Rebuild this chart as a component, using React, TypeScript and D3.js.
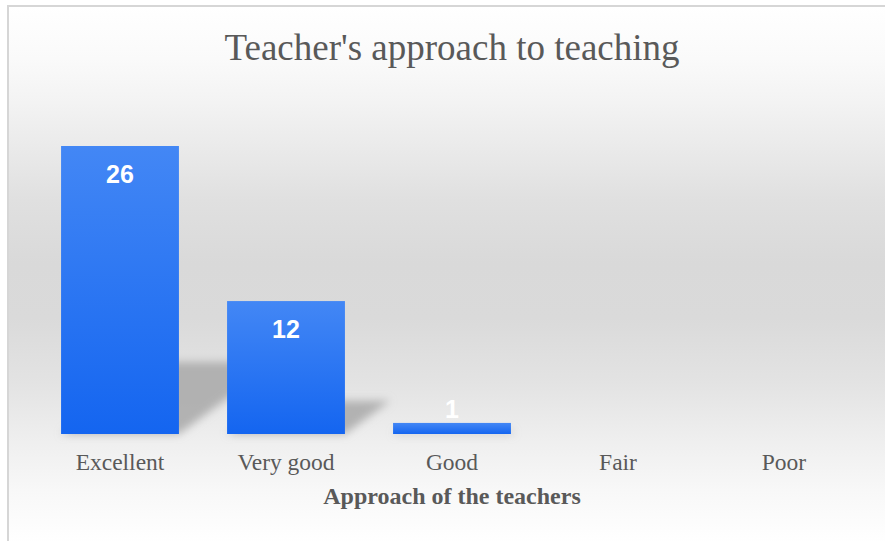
import React from "react";
import * as d3 from "d3";

const categories = ["Excellent", "Very good", "Good", "Fair", "Poor"];
const values = [26, 12, 1, 0, 0];
const titleText = "Teacher's approach to teaching";
const axisTitle = "Approach of the teachers";

const W = 885;
const H = 541;

export default function App() {
  const x = d3.scaleBand<string>().domain(categories).range([37, 867]).paddingInner(0.29).paddingOuter(0.145);
  const y = d3.scaleLinear().domain([0, 30]).range([434, 101.7]);
  const base = y(0);

  return (
    <svg
      width={W}
      height={H}
      style={{ position: "absolute", left: 0, top: 0, display: "block" }}
    >
      <defs>
        <linearGradient id="bg" x1="0" y1="5" x2="0" y2="545" gradientUnits="userSpaceOnUse">
          <stop offset="0" stopColor="#ffffff" />
          <stop offset="0.1" stopColor="#fafafa" />
          <stop offset="0.18" stopColor="#f3f3f3" />
          <stop offset="0.36" stopColor="#e0e0e0" />
          <stop offset="0.48" stopColor="#d9d9d9" />
          <stop offset="0.58" stopColor="#dadada" />
          <stop offset="0.7" stopColor="#e3e3e3" />
          <stop offset="0.8" stopColor="#eeeeee" />
          <stop offset="0.9" stopColor="#f8f8f8" />
          <stop offset="1" stopColor="#ffffff" />
        </linearGradient>
        <linearGradient id="bar" x1="0" y1="0" x2="0" y2="1">
          <stop offset="0" stopColor="#4387f5" />
          <stop offset="1" stopColor="#1465f0" />
        </linearGradient>
        <filter id="blur" x="-50%" y="-50%" width="200%" height="200%">
          <feGaussianBlur stdDeviation="4" />
        </filter>
      </defs>
      <rect x={0} y={0} width={W} height={H} fill="#ffffff" />
      <rect x={8} y={6} width={W + 10} height={H + 10} fill="url(#bg)" stroke="#d6d6d6" strokeWidth={2} />

      <text
        x={452}
        y={60}
        textAnchor="middle"
        fontFamily="'Liberation Serif', 'Times New Roman', serif"
        fontSize={37}
        fill="#595959"
      >
        {titleText}
      </text>

      {/* shadows */}
      <g filter="url(#blur)">
        {categories.map((c, i) => {
          const v = values[i];
          if (v <= 0) return null;
          const x0 = x(c)!;
          const x1 = x0 + x.bandwidth();
          const h = base - y(v);
          const sh = h * 0.25;
          const s = h * 0.34;
          const pts = [
            [x0, base],
            [x1, base],
            [x1 + s, base - sh],
            [x0 + s, base - sh],
          ];
          return <polygon key={c} points={pts.map((p) => p.join(",")).join(" ")} fill="#a8a8a8" opacity={0.85} />;
        })}
      </g>

      {categories.map((c, i) => {
        const v = values[i];
        if (v <= 0) return null;
        return (
          <rect
            key={c}
            x={x(c)}
            y={y(v)}
            width={x.bandwidth()}
            height={base - y(v)}
            fill="url(#bar)"
          />
        );
      })}

      {categories.map((c, i) => {
        const v = values[i];
        if (v <= 0) return null;
        const top = y(v);
        const h = base - top;
        const by = h > 30 ? top + 37 : top - 5;
        return (
          <text
            key={c}
            x={x(c)! + x.bandwidth() / 2}
            y={by}
            textAnchor="middle"
            fontFamily="'Liberation Sans', Arial, sans-serif"
            fontWeight="bold"
            fontSize={25}
            fill="#ffffff"
          >
            {v}
          </text>
        );
      })}

      {categories.map((c) => (
        <text
          key={c}
          x={x(c)! + x.bandwidth() / 2}
          y={470}
          textAnchor="middle"
          fontFamily="'Liberation Serif', 'Times New Roman', serif"
          fontSize={23.5}
          fill="#595959"
        >
          {c}
        </text>
      ))}

      <text
        x={452}
        y={504}
        textAnchor="middle"
        fontFamily="'Liberation Serif', 'Times New Roman', serif"
        fontWeight="bold"
        fontSize={24}
        fill="#595959"
      >
        {axisTitle}
      </text>
    </svg>
  );
}
